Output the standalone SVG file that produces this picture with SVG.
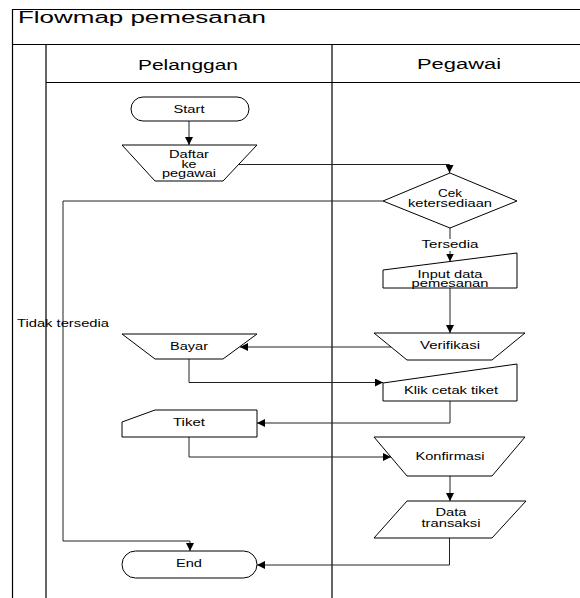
<svg xmlns="http://www.w3.org/2000/svg" width="580" height="598" viewBox="0 0 580 598">
<defs>
<style>
.frame{fill:none;stroke:#000;stroke-width:1.2}
.shape{fill:#fff;stroke:#000;stroke-width:1}
.conn{fill:none;stroke:#222;stroke-width:1}
.t{font-family:"Liberation Sans",Arial,sans-serif;font-size:10px;fill:#000;text-anchor:middle}
.h{font-family:"Liberation Sans",Arial,sans-serif;font-size:14px;fill:#000;text-anchor:middle}
.title{font-family:"Liberation Sans",Arial,sans-serif;font-size:16px;fill:#000}
</style>
<marker id="arr" markerUnits="userSpaceOnUse" markerWidth="8" markerHeight="8" refX="8" refY="4" orient="auto">
<path d="M0,0 L8,4 L0,8 z" fill="#000"/>
</marker>
</defs>
<rect width="580" height="598" fill="#fff"/>
<g id="frame">
<path class="frame" d="M12.5,598 V9.5 H580 M12.5,44.5 H580 M46,44.5 V598 M46,82.5 H580 M332,44.5 V598"/>
<text class="title" x="18" y="23" textLength="248" lengthAdjust="spacingAndGlyphs">Flowmap pemesanan</text>
<text class="h" x="188" y="70" textLength="100" lengthAdjust="spacingAndGlyphs">Pelanggan</text>
<text class="h" x="459" y="69" textLength="84" lengthAdjust="spacingAndGlyphs">Pegawai</text>
</g>
<g id="connectors">
<path class="conn" d="M189,121 V145" marker-end="url(#arr)"/>
<path class="conn" d="M239,164.5 H449.5 V173" marker-end="url(#arr)"/>
<path class="conn" d="M383,201 H63 V541 H190 V551" marker-end="url(#arr)"/>
<path class="conn" d="M450,228 V261.5" marker-end="url(#arr)"/>
<path class="conn" d="M450,288 V333" marker-end="url(#arr)"/>
<path class="conn" d="M391,347 H240" marker-end="url(#arr)"/>
<path class="conn" d="M189,359 V382.5 H383" marker-end="url(#arr)"/>
<path class="conn" d="M450,401 V423 H257" marker-end="url(#arr)"/>
<path class="conn" d="M189,437 V457 H391" marker-end="url(#arr)"/>
<path class="conn" d="M450,476 V501" marker-end="url(#arr)"/>
<path class="conn" d="M449.5,538 V565 H257" marker-end="url(#arr)"/>
<rect x="421" y="239" width="58" height="12" fill="#fff"/>
<text class="t" x="450" y="248" textLength="57" lengthAdjust="spacingAndGlyphs">Tersedia</text>
<text class="t" x="17" y="327" style="text-anchor:start" textLength="92" lengthAdjust="spacingAndGlyphs">Tidak tersedia</text>
</g>
<g id="start">
<rect class="shape" x="131" y="97" width="118" height="24" rx="12" ry="12"/>
<text class="t" x="189" y="112.5" textLength="31" lengthAdjust="spacingAndGlyphs">Start</text>
</g>
<g id="daftar">
<polygon class="shape" points="122,145 257,145 223,181 155,181"/>
<text class="t" x="189" y="158" textLength="40" lengthAdjust="spacingAndGlyphs">Daftar</text>
<text class="t" x="189" y="167.5" textLength="15" lengthAdjust="spacingAndGlyphs">ke</text>
<text class="t" x="189" y="177" textLength="54" lengthAdjust="spacingAndGlyphs">pegawai</text>
</g>
<g id="cek">
<polygon class="shape" points="450,173 517,201 450,228 383,201"/>
<text class="t" x="450" y="197" textLength="24" lengthAdjust="spacingAndGlyphs">Cek</text>
<text class="t" x="450" y="207" textLength="84" lengthAdjust="spacingAndGlyphs">ketersediaan</text>
</g>
<g id="input">
<polygon class="shape" points="383,270 517,253 517,288 383,288"/>
<text class="t" x="450" y="277.5" textLength="65" lengthAdjust="spacingAndGlyphs">Input data</text>
<text class="t" x="450" y="287" textLength="77" lengthAdjust="spacingAndGlyphs">pemesanan</text>
</g>
<g id="verifikasi">
<polygon class="shape" points="374,333 525,333 492,360 407,360"/>
<text class="t" x="450" y="349" textLength="60" lengthAdjust="spacingAndGlyphs">Verifikasi</text>
</g>
<g id="bayar">
<polygon class="shape" points="122,334 257,334 223,359 155,359"/>
<text class="t" x="189" y="349.5" textLength="38" lengthAdjust="spacingAndGlyphs">Bayar</text>
</g>
<g id="klik">
<polygon class="shape" points="383,383 517,364 517,401 383,401"/>
<text class="t" x="451" y="393.5" textLength="94" lengthAdjust="spacingAndGlyphs">Klik cetak tiket</text>
</g>
<g id="tiket">
<polygon class="shape" points="155,410 257,410 257,437 122,437 122,422"/>
<text class="t" x="189" y="426" textLength="32" lengthAdjust="spacingAndGlyphs">Tiket</text>
</g>
<g id="konfirmasi">
<polygon class="shape" points="374,437 525,437 492,476 407,476"/>
<text class="t" x="450" y="459.5" textLength="69" lengthAdjust="spacingAndGlyphs">Konfirmasi</text>
</g>
<g id="data">
<polygon class="shape" points="407,501 526,501 492,538 374,538"/>
<text class="t" x="451" y="516" textLength="31" lengthAdjust="spacingAndGlyphs">Data</text>
<text class="t" x="451" y="526.5" textLength="59" lengthAdjust="spacingAndGlyphs">transaksi</text>
</g>
<g id="end">
<rect class="shape" x="122" y="551" width="135" height="27" rx="13.5" ry="13.5"/>
<text class="t" x="189" y="567" textLength="26" lengthAdjust="spacingAndGlyphs">End</text>
</g>
</svg>
